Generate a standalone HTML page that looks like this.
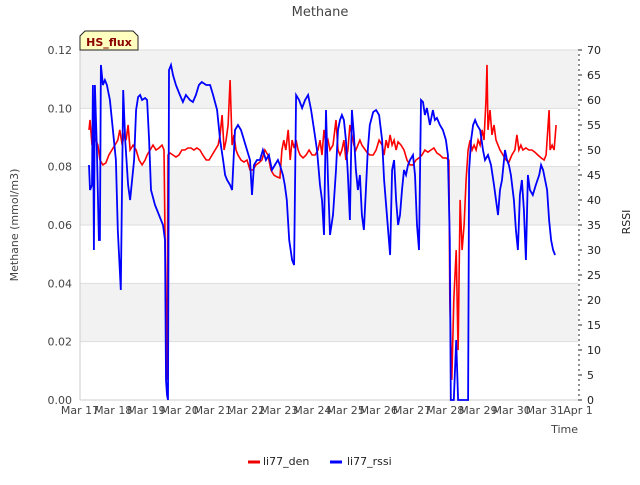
<!DOCTYPE html>
<html><head><meta charset="utf-8"><style>
body{margin:0;background:#fff;font-family:"Liberation Sans","DejaVu Sans",sans-serif;}
svg text{font-family:"DejaVu Sans","Liberation Sans",sans-serif;}
</style></head><body>
<svg id="chart" width="640" height="480" xmlns="http://www.w3.org/2000/svg">
<text x="320" y="16" text-anchor="middle" font-size="13" fill="#444">Methane</text>
<g id="bands"></g>
<g id="axes"></g>
<g id="series"></g>
<text transform="translate(18,225) rotate(-90)" text-anchor="middle" font-size="11" fill="#444">Methane (mmol/m3)</text>
<text transform="translate(630,222) rotate(-90)" text-anchor="middle" font-size="11" fill="#222">RSSI</text>
<text x="578" y="433" text-anchor="end" font-size="11" fill="#444">Time</text>
<g>
<path d="M80,50 L80,36 L85,31 L133,31 L138,36 L138,50 Z" fill="#ffffc0" stroke="#222" stroke-width="1"/>
<text x="109" y="46" text-anchor="middle" font-size="11" font-weight="bold" fill="#8b0000">HS_flux</text>
</g>
<g>
<g><line x1="248" y1="462" x2="260" y2="462" stroke="#e00" stroke-width="3"/><text x="263" y="465" font-size="11" fill="#222">li77_den</text></g>
<g><line x1="330" y1="462" x2="342" y2="462" stroke="#00f" stroke-width="3"/><text x="347" y="465" font-size="11" fill="#222">li77_rssi</text></g>
</g>
</svg>
<script>
const xTickLabels=["Mar 17","Mar 18","Mar 19","Mar 20","Mar 21","Mar 22","Mar 23","Mar 24","Mar 25","Mar 26","Mar 27","Mar 28","Mar 29","Mar 30","Mar 31","Apr 1"];
const yTicks=[0,0.02,0.04,0.06,0.08,0.10,0.12];
const y2Ticks=[0,5,10,15,20,25,30,35,40,45,50,55,60,65,70];
const rssiT=[0.27,0.30,0.36,0.39,0.42,0.45,0.51,0.57,0.60,0.63,0.69,0.75,0.81,0.90,0.99,1.08,1.14,1.23,1.30,1.36,1.45,1.51,1.57,1.63,1.69,1.75,1.81,1.87,1.96,2.02,2.08,2.14,2.26,2.38,2.50,2.56,2.59,2.62,2.65,2.68,2.74,2.80,2.89,3.01,3.10,3.19,3.31,3.40,3.49,3.58,3.67,3.80,3.92,4.01,4.13,4.22,4.31,4.37,4.43,4.52,4.58,4.67,4.76,4.85,4.94,5.03,5.12,5.18,5.24,5.33,5.42,5.51,5.60,5.69,5.78,5.87,5.96,6.02,6.11,6.17,6.23,6.30,6.39,6.45,6.51,6.60,6.69,6.78,6.87,6.96,7.05,7.14,7.23,7.29,7.35,7.41,7.47,7.53,7.62,7.71,7.77,7.83,7.89,7.95,8.01,8.07,8.13,8.19,8.25,8.31,8.37,8.43,8.49,8.55,8.61,8.67,8.73,8.83,8.92,9.01,9.10,9.16,9.22,9.28,9.34,9.40,9.46,9.52,9.58,9.64,9.70,9.76,9.82,9.88,9.94,10.03,10.09,10.15,10.21,10.27,10.33,10.39,10.45,10.54,10.63,10.69,10.75,10.84,10.93,11.02,11.08,11.14,11.17,11.26,11.33,11.39,11.48,11.63,11.69,11.72,11.78,11.84,11.90,11.96,12.05,12.14,12.20,12.29,12.38,12.47,12.53,12.59,12.65,12.71,12.80,12.86,12.92,12.98,13.07,13.13,13.19,13.25,13.31,13.37,13.43,13.49,13.55,13.64,13.73,13.83,13.89,13.95,14.01,14.07,14.13,14.19,14.25,14.31];
const rssiV=[47,42,43,63,30,63,50,32,32,67,63,64,63,60,54,48,34,22,62,52,43,40,44,48,58,60.6,61,60,60.4,60,52,42,39,37,35,32,4,1,0,66,67,65,63,61,59.6,61,60,59.6,61,63,63.6,63,63,61,58,52,48,45,44,43,42,54,55,54,52,50,48,41,47,48,48,50,48,49,46,47,48,47,45,43,40,32,28,27,61,60,58.4,60,61,58,54,50,43,40,33,58,44,33,37,46,54,56,57,56,52,45,36,58,53,46,42,45,37,34,42,50,55,57.6,58,57,52,44,39,34,29,46,48,40,35,37,42,46,45,47,48,49,45,35,30,60,59.6,57,58.4,55,58,56,56.4,55,54,52,49,32,0,0,12,0,0,0,0,46,52,55,56,55,54,50,48,49,47,43,40,37,42,44,50,48,47,45,40,34,30,41,44,38,28,45,42,41,43,45,47,46,44,42,36,32,30,29];
const denT=[0.27,0.30,0.36,0.42,0.48,0.54,0.60,0.69,0.78,0.87,0.96,1.05,1.14,1.20,1.27,1.33,1.39,1.45,1.51,1.60,1.69,1.78,1.87,1.96,2.02,2.11,2.20,2.29,2.38,2.47,2.53,2.59,2.62,2.65,2.71,2.80,2.89,2.98,3.07,3.16,3.25,3.34,3.43,3.52,3.61,3.70,3.80,3.89,3.98,4.07,4.16,4.22,4.28,4.34,4.40,4.46,4.52,4.58,4.64,4.70,4.76,4.85,4.94,5.03,5.12,5.21,5.30,5.39,5.48,5.57,5.66,5.75,5.84,5.93,6.02,6.08,6.14,6.20,6.27,6.33,6.39,6.45,6.51,6.57,6.63,6.72,6.81,6.90,6.99,7.08,7.17,7.23,7.29,7.35,7.41,7.47,7.53,7.62,7.71,7.77,7.83,7.89,7.95,8.01,8.07,8.13,8.19,8.25,8.31,8.37,8.43,8.49,8.55,8.64,8.73,8.83,8.92,9.01,9.10,9.16,9.22,9.28,9.34,9.40,9.46,9.52,9.58,9.67,9.76,9.85,9.94,10.03,10.12,10.21,10.30,10.39,10.48,10.57,10.66,10.75,10.84,10.93,11.02,11.11,11.14,11.20,11.26,11.33,11.39,11.45,11.51,11.57,11.63,11.69,11.75,11.81,11.87,11.93,11.99,12.05,12.11,12.17,12.23,12.26,12.29,12.35,12.41,12.47,12.53,12.59,12.65,12.74,12.83,12.92,13.01,13.10,13.16,13.22,13.28,13.34,13.43,13.52,13.61,13.70,13.79,13.89,13.98,14.04,14.10,14.13,14.16,14.22,14.28,14.34];
const denV=[0.0926,0.096,0.0874,0.0909,0.0891,0.0874,0.0823,0.0806,0.0813,0.084,0.0857,0.0874,0.0891,0.0926,0.0874,0.0909,0.0891,0.0943,0.0857,0.0874,0.0857,0.0823,0.0806,0.0823,0.084,0.0857,0.0874,0.0857,0.0864,0.0874,0.0857,0.0274,0.0069,0.084,0.0847,0.084,0.0833,0.084,0.0857,0.0857,0.0864,0.0864,0.0857,0.0864,0.0857,0.084,0.0823,0.0823,0.084,0.0857,0.0874,0.0909,0.0977,0.0857,0.0891,0.0943,0.1097,0.0874,0.0909,0.0857,0.084,0.0823,0.0816,0.0823,0.0789,0.0789,0.0806,0.0813,0.0823,0.0857,0.084,0.0789,0.0771,0.0765,0.0761,0.0857,0.0891,0.0857,0.0926,0.0823,0.0891,0.0864,0.0891,0.0857,0.084,0.083,0.084,0.0857,0.084,0.084,0.0857,0.0891,0.084,0.0926,0.0874,0.0891,0.0857,0.0874,0.096,0.0857,0.084,0.0857,0.0891,0.0823,0.0857,0.0943,0.0909,0.0874,0.0857,0.0874,0.0891,0.0874,0.0864,0.085,0.084,0.084,0.0857,0.0891,0.0874,0.084,0.0891,0.0864,0.0909,0.0874,0.0891,0.0857,0.0885,0.0874,0.0857,0.0823,0.0806,0.0806,0.0823,0.083,0.084,0.0857,0.085,0.0857,0.0864,0.0847,0.084,0.083,0.083,0.0823,0.0343,0.0069,0.0343,0.0514,0.0171,0.0686,0.0514,0.06,0.0754,0.0857,0.0891,0.0857,0.0874,0.0857,0.0891,0.0874,0.0926,0.0891,0.1029,0.1149,0.0926,0.0994,0.0909,0.0943,0.0891,0.0874,0.0857,0.084,0.0823,0.0816,0.084,0.0857,0.0909,0.0857,0.0874,0.0857,0.0864,0.0857,0.0857,0.085,0.084,0.083,0.0823,0.084,0.0943,0.0994,0.0857,0.0874,0.0857,0.0943];

const NS="http://www.w3.org/2000/svg";
const L=80,R=578,T=50,B=400;
const xS=d=>L+(R-L)*d/15;
const yS=v=>B-(B-T)*v/0.12;
const y2S=v=>B-(B-T)*v/70;
function mk(tag,attrs,parent){const e=document.createElementNS(NS,tag);for(const k in attrs)e.setAttribute(k,attrs[k]);parent.appendChild(e);return e;}
const bands=document.getElementById('bands'),axes=document.getElementById('axes'),series=document.getElementById('series');
mk('rect',{x:L,y:T,width:R-L,height:B-T,fill:'#fff'},bands);
for(let i=0;i<yTicks.length-1;i++){
  if(i%2===1){const r=mk('rect',{x:L,y:yS(yTicks[i+1]),width:R-L,height:yS(yTicks[i])-yS(yTicks[i+1]),fill:'#f2f2f2'},bands);
  
  }
}
yTicks.forEach(v=>{
  const g=mk('line',{x1:L,x2:R,y1:yS(v),y2:yS(v),stroke:'#ddd','stroke-width':1},axes);
  
  
  const t=mk('text',{x:L-8,y:yS(v)+4,'text-anchor':'end','font-size':11,fill:'#444'},axes);
  t.textContent=v.toFixed(2);
  
  
});
mk('line',{x1:L,x2:L,y1:T,y2:B,stroke:'#ccc'},axes);
mk('line',{x1:L,x2:R,y1:B,y2:B,stroke:'#ccc'},axes);
xTickLabels.forEach((s,i)=>{
  const t=mk('text',{x:xS(i),y:414,'text-anchor':'middle','font-size':11,fill:'#444'},axes);
  t.textContent=s;
  
  
});
for(let v=0;v<=70;v++){mk('line',{x1:R,x2:R+(v%5===0?4:2),y1:y2S(v),y2:y2S(v),stroke:'#222','stroke-width':1},axes);}
y2Ticks.forEach(v=>{
  const t=mk('text',{x:R+9,y:y2S(v)+4,'font-size':11,fill:'#222'},axes);
  t.textContent=v;
  
  
});
const den=mk('polyline',{points:denT.map((t,i)=>xS(t).toFixed(1)+','+yS(denV[i]).toFixed(1)).join(' '),fill:'none',stroke:'#f00','stroke-width':1.6},series);


const rs=mk('polyline',{points:rssiT.map((t,i)=>xS(t).toFixed(1)+','+y2S(rssiV[i]).toFixed(1)).join(' '),fill:'none',stroke:'#00f','stroke-width':1.8},series);


</script>
</body></html>
